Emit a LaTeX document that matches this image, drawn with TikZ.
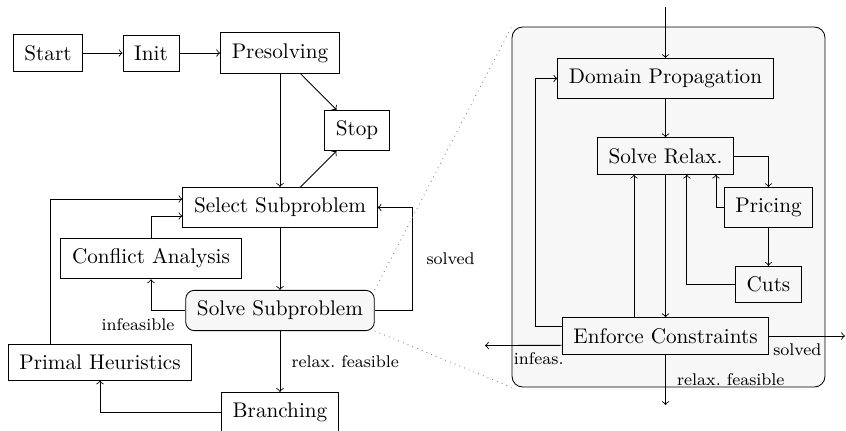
\documentclass[tikz,border=0pt]{standalone}
\usepackage{amsmath}
\usepackage{tikz}

\begin{document}
\begin{tikzpicture}[x=0.472pt, y=-0.472pt,
    box/.style={draw, inner xsep=5.3pt, inner ysep=5pt},
    solvebox/.style={box, rounded corners=4pt, fill=black!3},
    panel/.style={draw, rounded corners=5pt, fill=black!3, inner sep=0pt},
    lbl/.style={font=\footnotesize},
    zoomline/.style={gray, dotted}]
    \useasboundingbox (0,0) rectangle (846,431);

    \node (panel) at (668.5,207) [panel, minimum width=147.7pt, minimum height=169.9pt] {};

    \node (start) at (48,53) [box] {Start};
    \node (init) at (151,53) [box] {Init};
    \node (presolve) at (280,53) [box] {Presolving};
    \node (stop) at (357,130.5) [box] {Stop};
    \node (select) at (280,207.5) [box] {Select Subproblem};
    \node (conflict) at (151,258.5) [box] {Conflict Analysis};
    \node (solve) at (280,310.5) [solvebox] {Solve Subproblem};
    \node (heur) at (100,362) [box] {Primal Heuristics};
    \node (branch) at (280,412.5) [box] {Branching};
    \node (infeaslbl) at (138,325) [lbl] {infeasible};

    \draw[->] (start) -- (init);
    \draw[->] (init) -- (presolve);
    \draw[->] (presolve) -- (select);
    \draw[->] (presolve) -- (stop);
    \draw[->] (select) -- (stop);
    \draw[->] (select) -- (solve);
    \draw[->] (solve) -| (conflict);
    \draw[->] (conflict) |- ([yshift=-4pt]select.west);
    \draw[->] ([xshift=-23.6pt]heur.north) |- ([yshift=4pt]select.west);
    \draw[->] (solve.east) -- ++(38,0) |- node[pos=0.25, right=3pt, lbl] {solved} (select.east);
    \draw[->] (solve) -- node[right=2pt, lbl] {relax.\ feasible} (branch);
    \draw[->] (branch) -| (heur);

    \draw[zoomline] (solve.north east) -- (panel.north west);
    \draw[zoomline] (solve.south east) -- (panel.south west);

    \node (prop) at (665.5,78.5) [box] {Domain Propagation};
    \node (relax) at (665.5,156) [box] {Solve Relax.};
    \node (price) at (768.5,207.5) [box] {Pricing};
    \node (cuts) at (768.5,284.5) [box] {Cuts};
    \node (enforce) at (665.5,336) [box] {Enforce Constraints};
    \coordinate (in) at (665.5,7);
    \coordinate (outl) at (485,345.5);
    \coordinate (outr) at (845,336);
    \coordinate (outd) at (665.5,405);

    \draw[->] (in) -- (prop);
    \draw[->] (prop) -- (relax);
    \draw[->] (relax) -| (price);
    \draw[->] (price) -| ([xshift=23.8pt]relax.south);
    \draw[->] (price) -- (cuts);
    \draw[->] (cuts) -| ([xshift=10.1pt]relax.south);
    \draw[->] (relax) -- (enforce);
    \draw[->] ([xshift=-14.9pt]enforce.north) -- ([xshift=-14.9pt]relax.south);
    \draw[->] ([yshift=4.4pt]enforce.west) -- ++(-26,0) |- (prop);
    \draw[->] ([yshift=-4.4pt]enforce.west) -- node[pos=0.3, below, lbl] {infeas.} (outl);
    \draw[->] (enforce) -- node[pos=0.37, below, lbl] {solved} (outr);
    \draw[->] (enforce) -- node[pos=0.5, right=2pt, lbl] {relax.\ feasible} (outd);
  \end{tikzpicture}
\end{document}
